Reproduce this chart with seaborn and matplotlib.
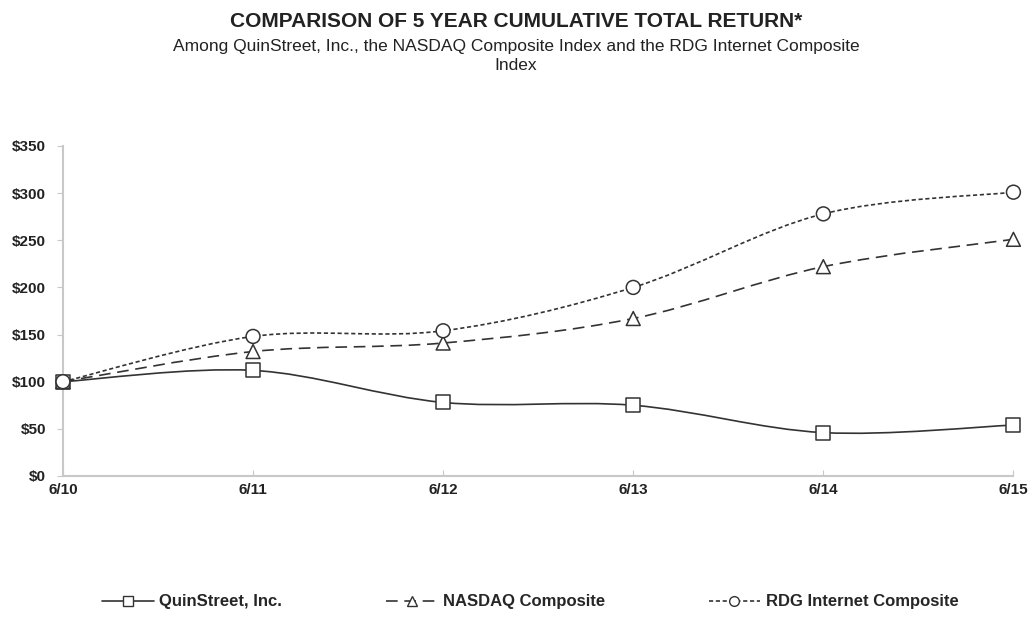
import numpy as np
import pandas as pd
import matplotlib
matplotlib.use("Agg")
import matplotlib.pyplot as plt
from matplotlib.path import Path
from matplotlib.patches import PathPatch
from matplotlib.lines import Line2D
import seaborn as sns

# donnees
years = ["6/10", "6/11", "6/12", "6/13", "6/14", "6/15"]
quinstreet = [100, 112, 78, 75, 46, 54]
nasdaq = [100, 132, 141, 167, 222, 251]
rdg = [100, 148, 154, 200, 278, 301]

series_names = ["QuinStreet, Inc.", "NASDAQ Composite", "RDG Internet Composite"]
y_ticks = [0, 50, 100, 150, 200, 250, 300, 350]

df = pd.DataFrame({"year": years, "QuinStreet, Inc.": quinstreet,
                   "NASDAQ Composite": nasdaq, "RDG Internet Composite": rdg})
df["x"] = np.arange(len(years))
long_df = df.melt(id_vars=["year", "x"], var_name="series", value_name="value")

sns.set_style("white")
plt.rcParams['font.family'] = ['Liberation Sans', 'DejaVu Sans']

fig = plt.figure(figsize=(10.32, 6.18), dpi=100)
ax = fig.add_axes([0.061, 0.2298, 0.921, 0.534])

styles = {
    "QuinStreet, Inc.": dict(marker="s", dashes=None),
    "NASDAQ Composite": dict(marker="^", dashes=(7, 4)),
    "RDG Internet Composite": dict(marker="o", dashes=(2.5, 1.6)),
}


def smooth_path(xs, ys):
    # courbe de Bezier type "lissage" Excel (Catmull-Rom)
    pts = np.column_stack([xs, ys]).astype(float)
    n = len(pts)
    verts = [pts[0]]
    codes = [Path.MOVETO]
    for i in range(n - 1):
        p0 = pts[max(i - 1, 0)]
        p1 = pts[i]
        p2 = pts[i + 1]
        p3 = pts[min(i + 2, n - 1)]
        c1 = p1 + (p2 - p0) / 6.0
        c2 = p2 - (p3 - p1) / 6.0
        verts += [c1, c2, p2]
        codes += [Path.CURVE4] * 3
    return Path(verts, codes)


for name in series_names:
    st = styles[name]
    path = smooth_path(df["x"], df[name])
    patch = PathPatch(path, fill=False, edgecolor="#333333", lw=1.2, clip_on=False)
    if st["dashes"] is not None:
        patch.set_linestyle((0, st["dashes"]))
    ax.add_patch(patch)

sns.scatterplot(data=long_df, x="x", y="value", style="series", markers={
    "QuinStreet, Inc.": "s", "NASDAQ Composite": "^", "RDG Internet Composite": "o"},
    s=100, facecolor="white", edgecolor="#333333", linewidth=1.1, legend=False,
    ax=ax, zorder=3, clip_on=False)

ax.set_xlim(0, 5)
ax.set_ylim(0, 350)
ax.set_xticks(df["x"])
ax.set_xticklabels(years, fontweight="bold", fontsize=11, color="#222222")
ax.set_yticks(y_ticks)
ax.set_yticklabels(["$%d" % v for v in y_ticks], fontweight="bold", fontsize=11, color="#222222")
ax.set_xlabel("")
ax.set_ylabel("")
sns.despine(ax=ax)
for sp in ["left", "bottom"]:
    ax.spines[sp].set_color("#c8c8c8")
    ax.spines[sp].set_linewidth(1.5)
ax.tick_params(axis="y", direction="out", length=4, color="#c8c8c8", pad=8, left=True)
ax.tick_params(axis="x", direction="in", length=4, color="#c8c8c8", pad=5, bottom=True)

fig.text(0.5, 0.965, "COMPARISON OF 5 YEAR CUMULATIVE TOTAL RETURN*", ha="center",
         va="center", fontsize=15, fontweight="bold", color="#222222")
fig.text(0.5, 0.909, "Among QuinStreet, Inc., the NASDAQ Composite Index and the RDG Internet Composite\nIndex",
         ha="center", va="center", fontsize=12.5, color="#222222", linespacing=1.3)

handles = []
for name in series_names:
    st = styles[name]
    h = Line2D([0], [0], color="#333333", lw=1.2, marker=st["marker"], markersize=7,
               markerfacecolor="white", markeredgecolor="#333333")
    if st["dashes"] is not None:
        h.set_dashes(st["dashes"])
    handles.append(h)
fig.legend(handles, series_names, loc="center", bbox_to_anchor=(0.514, 0.026), ncol=3,
           frameon=False, prop={"weight": "bold", "size": 12}, columnspacing=6.2,
           handlelength=3.1, handletextpad=0.35)

fig.savefig("out.png", dpi=100, facecolor="white")
